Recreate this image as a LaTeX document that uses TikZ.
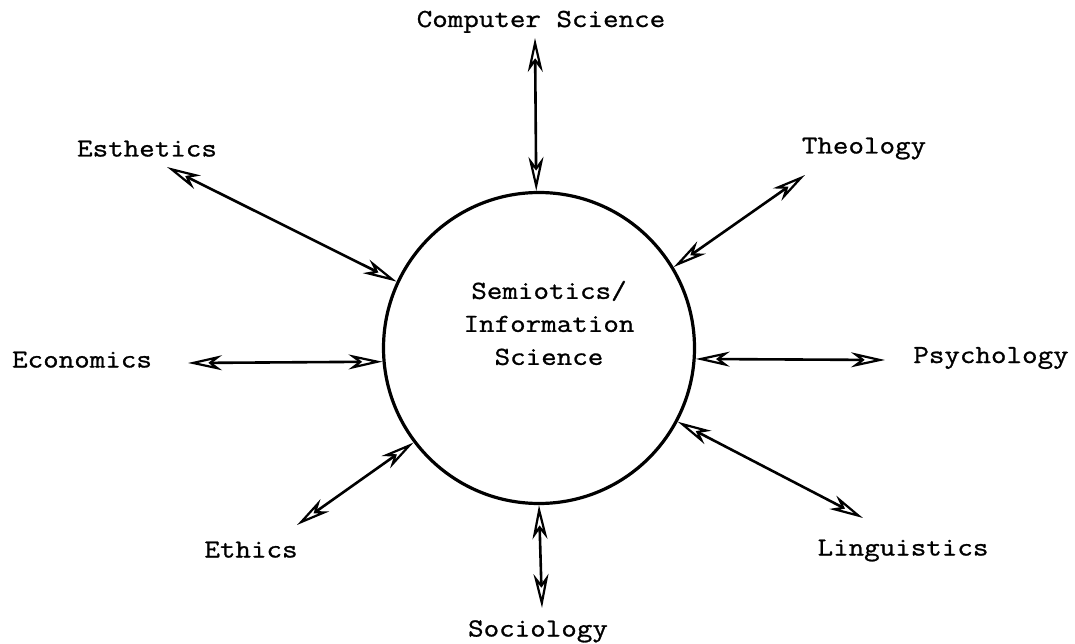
\documentclass[tikz,border=0pt]{standalone}
\usepackage{fontspec}
\usetikzlibrary{arrows.meta}
\newfontfamily\typewriter{Latin Modern Mono}[FakeStretch=1.16, FakeBold=1]
\tikzset{
  headtip/.tip={Stealth[open,length=34pt,width=15pt,inset=10pt,line width=2.2pt]}
}
\begin{document}
\begin{tikzpicture}[x=1pt,y=-1pt,
  label/.style={font=\typewriter\fontsize{26}{33}\selectfont, inner sep=0pt,
                text height=15pt, text depth=0pt},
  link/.style={line width=2.6pt, headtip-headtip}]
  \useasboundingbox (0,0) rectangle (1075,644);

  % central field
  \node[circle, draw, line width=3.2pt, minimum size=311pt, inner sep=0pt] (hub) at (539,348) {};
  \node[font=\typewriter\fontsize{26}{33}\selectfont, align=center, inner sep=0pt] (hubtext) at (549,323)
    {Semiotics/\\Information\\Science};

  % surrounding disciplines
  \node[label] (cs)   at (541,19.5) {Computer Science};
  \node[label] (es)   at (147,149)  {Esthetics};
  \node[label] (th)   at (864,146)  {Theology};
  \node[label] (ec)   at (82,360)   {Economics};
  \node[label] (ps)   at (991,355.5){Psychology};
  \node[label] (et)   at (251,550)  {Ethics};
  \node[label] (li)   at (903,548)  {Linguistics};
  \node[label] (so)   at (538,629)  {Sociology};

  % outer arrow ends
  \coordinate (csEnd) at (535,38);
  \coordinate (esEnd) at (167,167);
  \coordinate (thEnd) at (805,175);
  \coordinate (ecEnd) at (188,363);
  \coordinate (psEnd) at (885,360);
  \coordinate (etEnd) at (297,525);
  \coordinate (liEnd) at (863,518);
  \coordinate (soEnd) at (542,608);

  % two-way links
  \draw[link] (csEnd) -- (hub.91);
  \draw[link] (esEnd) -- (hub.155);
  \draw[link] (thEnd) -- (hub.31);
  \draw[link] (ecEnd) -- (hub.185);
  \draw[link] (hub.-4) -- (psEnd);
  \draw[link] (hub.217) -- (etEnd);
  \draw[link] (hub.-28.5) -- (liEnd);
  \draw[link] (hub.270) -- (soEnd);
\end{tikzpicture}
\end{document}
